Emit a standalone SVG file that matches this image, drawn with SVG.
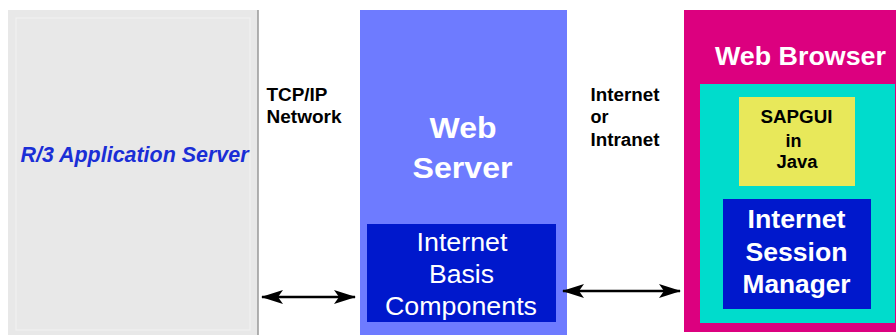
<svg xmlns="http://www.w3.org/2000/svg" width="896" height="335" viewBox="0 0 896 335">
<style>
text{font-family:"Liberation Sans",Arial,Helvetica,sans-serif}
.lbl{font-size:18px;font-weight:bold;fill:#000}
.wb{font-weight:bold;fill:#fff;text-anchor:middle}
.conn{stroke:#000;stroke-width:2.5;fill:none;marker-start:url(#ah);marker-end:url(#ah)}
</style>
<defs>
<marker id="ah" viewBox="0 0 22 14" refX="21" refY="7" markerWidth="22" markerHeight="14" markerUnits="userSpaceOnUse" orient="auto-start-reverse">
<path d="M0,0 L22,7 L0,14 L5,7 Z" fill="#000"/>
</marker>
</defs>
<rect width="896" height="335" fill="#fff"/>
<g id="r3server">
<rect x="8" y="10" width="250" height="330" fill="#e8e8e8"/>
<rect x="16" y="18" width="234" height="312" fill="none" stroke="#f2f2f2" stroke-width="1"/>
<line x1="258" y1="10" x2="258" y2="335" stroke="#999" stroke-width="1.5"/>
<text x="134.5" y="162" text-anchor="middle" font-size="21.5" font-weight="bold" font-style="italic" fill="#1a2ed6" textLength="228" lengthAdjust="spacingAndGlyphs">R/3 Application Server</text>
</g>
<g id="tcpip-label">
<text class="lbl" x="266.5" y="101" textLength="61" lengthAdjust="spacingAndGlyphs">TCP/IP</text>
<text class="lbl" x="266.5" y="123" textLength="75" lengthAdjust="spacingAndGlyphs">Network</text>
</g>
<g id="webserver">
<rect x="360" y="10" width="207" height="330" fill="#6e7bff"/>
<text class="wb" x="463" y="138" font-size="29" textLength="67" lengthAdjust="spacingAndGlyphs">Web</text>
<text class="wb" x="462.5" y="178" font-size="29" textLength="100" lengthAdjust="spacingAndGlyphs">Server</text>
</g>
<g id="basis">
<rect x="367" y="224" width="189" height="98" fill="#0018cc"/>
<text x="462" y="251" text-anchor="middle" font-size="25" fill="#fff" textLength="91" lengthAdjust="spacingAndGlyphs">Internet</text>
<text x="461.5" y="283" text-anchor="middle" font-size="25" fill="#fff" textLength="65" lengthAdjust="spacingAndGlyphs">Basis</text>
<text x="461" y="315" text-anchor="middle" font-size="25" fill="#fff" textLength="152" lengthAdjust="spacingAndGlyphs">Components</text>
</g>
<g id="internet-label">
<text class="lbl" x="590.5" y="101" textLength="69" lengthAdjust="spacingAndGlyphs">Internet</text>
<text class="lbl" x="590.5" y="123" textLength="18" lengthAdjust="spacingAndGlyphs">or</text>
<text class="lbl" x="590.5" y="146" textLength="69" lengthAdjust="spacingAndGlyphs">Intranet</text>
</g>
<g id="browser">
<rect x="684" y="10" width="212" height="322" fill="#dc007f"/>
<text class="wb" x="800.5" y="65" font-size="25" textLength="171" lengthAdjust="spacingAndGlyphs">Web Browser</text>
<rect x="700" y="84" width="195" height="239" fill="#00dccc"/>
</g>
<g id="sapgui">
<rect x="739" y="97" width="116" height="89" fill="#e8e85a"/>
<text class="lbl" x="796.5" y="123" text-anchor="middle" textLength="72" lengthAdjust="spacingAndGlyphs">SAPGUI</text>
<text class="lbl" x="793.5" y="147" text-anchor="middle" textLength="16" lengthAdjust="spacingAndGlyphs">in</text>
<text class="lbl" x="797" y="168" text-anchor="middle" textLength="41" lengthAdjust="spacingAndGlyphs">Java</text>
</g>
<g id="ism">
<rect x="723" y="199" width="148" height="110" fill="#0018cc"/>
<text class="wb" x="796.5" y="228" font-size="26" textLength="98" lengthAdjust="spacingAndGlyphs">Internet</text>
<text class="wb" x="796.5" y="261" font-size="26" textLength="102" lengthAdjust="spacingAndGlyphs">Session</text>
<text class="wb" x="796.5" y="293" font-size="26" textLength="108" lengthAdjust="spacingAndGlyphs">Manager</text>
</g>
<g id="connectors">
<line class="conn" x1="262" y1="297" x2="355" y2="297"/>
<line class="conn" x1="563" y1="291" x2="680" y2="291"/>
</g>
</svg>
